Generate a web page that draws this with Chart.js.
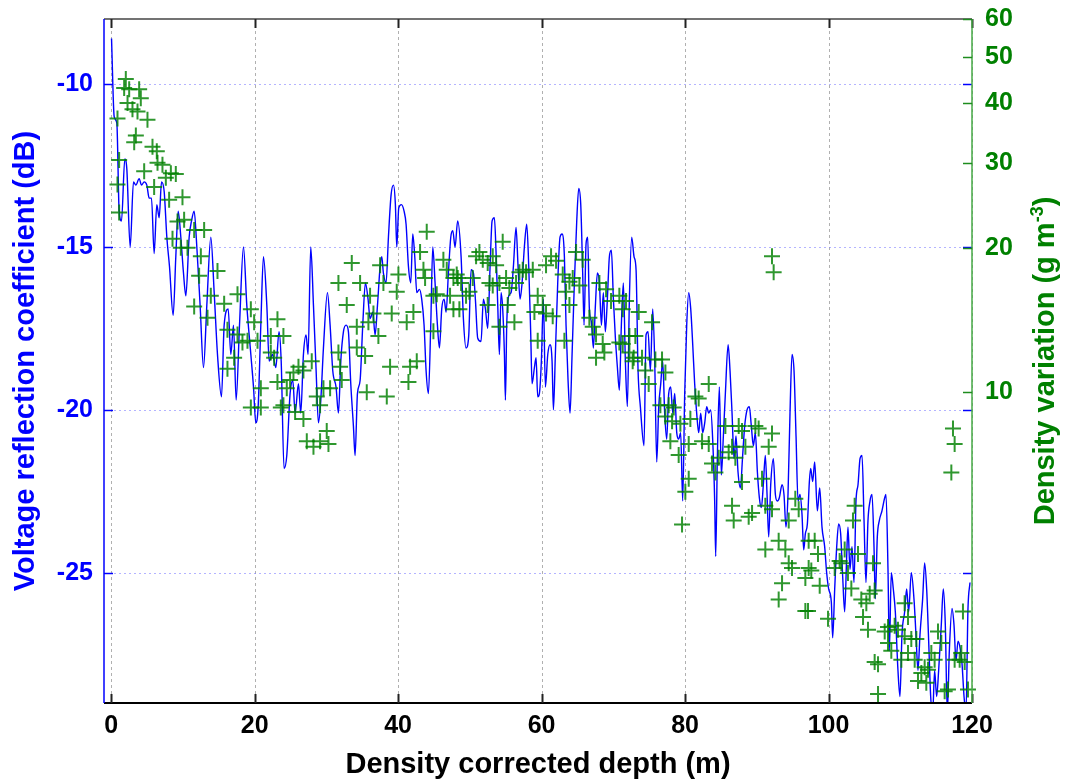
<!DOCTYPE html>
<html>
<head>
<meta charset="utf-8">
<script src="https://cdn.jsdelivr.net/npm/chart.js@4.4.1/dist/chart.umd.min.js"></script>
<style>
html,body{margin:0;padding:0;background:#ffffff;}
#wrap{width:1066px;height:782px;}
</style>
</head>
<body>
<div id="wrap"><canvas id="c" width="1066" height="782"></canvas></div>
<script>
// ---- tick labels ----
const xTickValues = [0, 20, 40, 60, 80, 100, 120];
const leftTickValues = [-25, -20, -15, -10];
const rightTickValues = [10, 20, 30, 40, 50, 60];

// ---- blue series: voltage reflection coefficient (dB) vs depth (m) ----
const lineDepth = [
0.05,0.42,0.79,1.11,1.44,1.90,2.18,2.65,3.11,3.44,
3.90,4.23,4.60,4.97,5.30,5.62,5.99,6.36,6.69,7.02,
7.39,7.76,8.13,8.64,9.01,9.34,9.71,10.08,10.41,10.87,
11.20,11.57,11.94,12.40,12.87,13.33,13.89,14.36,14.82,15.38,
15.75,16.31,16.68,17.05,17.42,17.89,18.44,18.91,19.47,19.84,
20.16,20.49,20.86,21.23,21.70,22.02,22.49,22.95,23.40,23.70,
24.10,24.48,24.94,25.32,25.64,26.11,26.43,26.80,27.17,27.45,
27.82,28.20,28.57,28.89,29.22,29.59,30.15,30.52,30.89,31.35,
31.68,32.01,32.38,32.75,33.07,33.40,33.77,34.00,34.33,34.70,
35.07,35.44,35.81,36.09,36.47,36.79,37.12,37.49,37.72,37.95,
38.32,38.65,39.02,39.35,39.62,39.81,40.09,40.46,40.83,41.11,
41.44,41.76,42.04,42.32,42.60,42.97,43.29,43.62,43.90,44.22,
44.55,44.83,45.15,45.48,45.76,46.08,46.41,46.69,47.01,47.34,
47.62,47.94,48.30,48.78,49.10,49.47,49.85,50.17,50.50,50.77,
51.10,51.56,51.89,52.17,52.49,52.82,53.10,53.42,53.66,53.89,
54.12,54.35,54.58,54.82,54.96,55.14,55.42,55.75,56.07,56.44,
56.72,57.00,57.28,57.60,57.93,58.21,58.49,58.67,59.00,59.23,
59.46,59.69,59.97,60.25,60.53,60.86,61.18,61.46,61.65,61.92,
62.25,62.57,62.85,63.18,63.41,63.69,63.97,64.25,64.57,64.90,
65.18,65.46,65.73,65.92,66.20,66.43,66.66,66.94,67.22,67.50,
67.78,68.06,68.34,68.61,68.89,69.17,69.45,69.73,70.01,70.29,
70.57,70.84,71.12,71.40,71.68,71.96,72.24,72.56,72.89,73.17,
73.45,73.77,74.28,74.56,74.84,75.17,75.49,75.77,76.05,76.33,
76.61,76.88,77.16,77.44,77.72,78.00,78.28,78.56,78.84,79.11,
79.39,79.67,79.95,80.23,80.51,80.79,81.07,81.34,81.62,81.90,
82.18,82.46,82.74,83.02,83.30,83.57,83.85,84.13,84.27,84.50,
84.78,85.06,85.34,85.62,86.00,86.27,86.55,86.83,87.10,87.38,
87.71,88.03,88.31,88.64,88.96,89.24,89.52,89.80,90.08,90.36,
90.64,90.91,91.19,91.43,91.66,91.94,92.31,92.59,92.87,93.14,
93.52,93.79,94.07,94.35,94.63,94.91,95.19,95.47,95.75,96.02,
96.30,96.54,96.77,97.05,97.33,97.51,97.79,98.07,98.44,98.77,
99.09,99.46,99.74,100.02,100.39,100.58,100.86,101.14,101.41,101.69,
101.97,102.25,102.53,102.71,102.99,103.27,103.55,103.83,104.11,104.39,
104.67,104.95,105.22,105.50,105.78,106.06,106.34,106.52,106.80,107.08,
107.45,107.83,108.01,108.29,108.48,108.75,109.03,109.31,109.68,109.96,
110.24,110.61,110.89,111.17,111.54,111.91,112.19,112.47,112.75,113.12,
113.40,113.68,113.96,114.24,114.52,114.79,115.07,115.35,115.72,116.00,
116.28,116.56,116.84,117.21,117.49,117.77,118.05,118.33,118.61,118.89,
119.16,119.44,119.72
];
const lineDb = [
-8.6,-11.0,-11.2,-13.9,-14.2,-12.3,-12.6,-15.0,-13.0,-13.1,
-12.9,-13.1,-13.0,-13.1,-13.5,-13.5,-15.2,-13.7,-14.1,-13.0,
-13.3,-14.7,-15.6,-17.1,-15.3,-13.9,-14.7,-15.8,-16.5,-14.7,
-14.2,-13.9,-15.0,-16.8,-18.7,-16.8,-14.7,-16.4,-18.3,-19.6,
-17.4,-16.9,-18.3,-17.4,-19.7,-17.4,-15.0,-16.8,-18.3,-19.3,
-20.4,-19.9,-17.4,-15.3,-16.8,-18.5,-18.3,-18.7,-17.6,-18.5,
-21.8,-21.4,-19.5,-19.1,-20.1,-19.2,-20.1,-18.3,-17.7,-18.3,
-15.0,-16.8,-18.8,-20.4,-19.7,-18.1,-16.4,-17.4,-18.8,-19.3,
-20.1,-18.5,-17.6,-17.4,-17.6,-19.2,-20.5,-21.4,-19.5,-19.1,
-17.4,-16.1,-16.6,-17.2,-17.0,-17.7,-16.8,-15.6,-15.3,-15.8,
-16.1,-14.7,-13.4,-13.1,-13.7,-15.0,-13.8,-13.7,-13.9,-14.3,
-15.6,-16.1,-14.6,-15.3,-16.4,-16.3,-16.6,-17.4,-18.8,-19.5,
-17.4,-15.0,-16.1,-17.4,-18.1,-16.9,-16.6,-17.0,-15.8,-14.7,
-14.5,-15.0,-14.2,-15.3,-17.2,-18.1,-17.7,-15.7,-15.8,-16.6,
-17.8,-17.9,-16.6,-16.9,-17.5,-15.6,-14.2,-14.1,-15.2,-16.8,
-18.3,-16.4,-16.9,-18.3,-19.7,-17.4,-16.5,-16.4,-15.6,-14.4,
-15.6,-16.6,-16.1,-15.0,-14.3,-15.6,-17.7,-19.2,-18.7,-18.4,
-19.6,-19.5,-18.5,-16.6,-19.3,-18.3,-18.0,-18.5,-20.0,-18.3,
-16.1,-14.7,-14.6,-15.3,-17.4,-19.1,-20.1,-18.3,-16.1,-14.2,
-13.2,-13.7,-15.8,-17.4,-14.9,-14.7,-16.9,-17.3,-18.1,-16.8,
-15.8,-16.1,-17.4,-16.4,-17.6,-16.6,-15.3,-15.1,-16.6,-17.8,
-18.7,-19.4,-17.4,-16.1,-18.5,-19.9,-16.6,-14.7,-15.3,-15.7,
-18.8,-19.9,-21.1,-17.7,-17.6,-18.8,-16.9,-18.5,-21.6,-19.9,
-19.2,-18.5,-20.1,-20.9,-19.5,-19.3,-20.1,-19.5,-20.7,-20.9,
-20.7,-22.8,-19.5,-17.4,-16.4,-16.9,-18.0,-19.2,-20.1,-20.7,
-20.1,-20.7,-20.4,-19.9,-20.1,-20.0,-20.9,-22.8,-24.5,-21.5,
-19.3,-22.0,-20.8,-19.5,-18.0,-18.8,-20.1,-21.5,-20.8,-21.9,
-22.4,-21.4,-20.5,-20.0,-19.9,-20.5,-21.1,-20.7,-21.9,-22.7,
-23.0,-22.3,-21.4,-22.6,-23.9,-22.3,-21.5,-22.6,-22.8,-22.7,
-22.3,-22.6,-23.6,-22.6,-20.1,-18.3,-18.8,-20.8,-22.8,-22.6,
-23.2,-24.3,-23.8,-23.5,-22.2,-21.8,-22.2,-21.6,-23.1,-22.4,
-23.6,-24.2,-25.0,-25.5,-25.9,-27.0,-25.5,-24.2,-23.5,-23.8,
-25.1,-26.2,-24.5,-23.6,-24.9,-24.2,-25.3,-22.8,-22.3,-21.5,
-21.4,-23.4,-25.3,-23.4,-22.8,-22.6,-24.2,-25.8,-23.9,-23.4,
-23.1,-22.7,-22.6,-24.9,-27.4,-25.0,-25.5,-26.2,-28.0,-28.8,
-26.9,-26.2,-25.5,-26.2,-25.0,-25.8,-26.9,-28.0,-26.9,-25.8,
-24.7,-25.5,-27.1,-28.8,-29.3,-28.0,-28.8,-28.0,-26.6,-25.5,
-26.6,-29.3,-27.4,-26.1,-26.6,-27.7,-27.1,-27.3,-27.8,-28.8,
-29.3,-26.1,-25.3
];

// ---- green series: density variation (g m^-3) vs depth (m) ----
const densityDepth = [
2.04,1.81,2.51,3.90,4.13,2.28,2.97,3.67,5.06,0.88,
3.44,3.21,5.76,6.36,1.11,6.46,7.15,4.60,8.32,9.01,
7.62,5.99,0.88,9.94,8.08,1.11,10.17,8.55,11.57,9.25,
12.96,10.64,9.71,12.50,14.82,12.26,13.89,11.57,13.43,15.75,
17.61,19.47,19.93,16.21,19.00,17.61,18.30,20.40,22.25,23.18,
17.14,16.21,20.86,19.47,20.86,23.18,23.65,22.25,22.72,24.01,
24.94,26.11,25.41,26.80,27.96,24.48,24.01,25.64,26.80,27.27,
28.20,29.12,30.05,30.29,29.59,28.66,29.12,30.52,31.68,31.91,
32.84,31.68,33.54,34.70,37.49,36.09,37.95,36.56,35.86,37.25,
34.24,34.24,35.40,32.14,35.63,38.42,38.88,39.11,40.04,39.81,
41.20,42.13,43.06,43.99,43.76,43.53,44.92,46.31,47.71,47.71,
46.78,41.67,41.44,44.92,45.38,48.17,47.24,42.60,48.31,48.78,
48.54,49.47,49.94,50.40,50.87,51.33,51.80,52.49,53.19,54.58,
53.66,54.12,55.05,52.73,53.19,55.51,56.44,57.37,57.84,58.77,
56.91,56.21,54.12,52.49,55.28,59.46,60.16,59.00,59.46,60.62,
61.32,62.02,62.95,63.88,64.34,64.81,65.73,65.27,63.41,63.88,
63.18,60.62,61.55,66.66,67.13,67.59,68.52,67.59,68.75,68.06,
68.99,69.68,70.84,71.31,71.77,72.24,70.84,71.31,72.24,72.70,
73.54,73.07,72.84,74.00,75.40,75.86,76.79,77.26,74.47,74.93,
76.56,77.72,78.42,77.26,78.19,79.35,77.95,79.11,80.51,80.04,
80.51,79.58,81.44,81.90,83.30,80.74,82.37,83.30,83.76,84.23,
84.69,85.62,86.08,86.55,87.01,87.48,87.94,88.41,86.55,86.78,
87.94,88.87,89.34,89.80,90.26,92.12,91.66,90.73,91.19,92.12,
91.19,93.05,93.98,94.45,95.37,95.84,94.45,94.91,93.52,93.05,
96.77,96.77,97.23,97.23,92.12,92.35,98.07,98.53,97.60,98.77,
97.14,99.93,100.86,101.79,102.25,101.55,103.64,103.41,104.11,102.71,
103.18,104.57,105.27,104.81,105.74,106.43,106.20,105.50,106.43,106.90,
106.90,107.83,108.29,108.29,108.75,109.22,109.68,110.61,111.08,110.15,
110.61,111.08,111.54,112.01,112.24,112.47,112.94,113.40,113.63,113.87,
114.33,114.79,115.26,115.72,116.19,116.65,117.58,118.28,118.51,118.98,
119.44,118.74,117.35,117.58,117.12
];
const densityValue = [
45.0,43.1,42.8,42.8,41.0,40.1,38.9,38.5,37.0,37.2,
34.3,33.2,32.5,31.8,30.5,30.1,29.8,28.9,28.6,28.5,
28.0,26.8,27.1,25.5,25.2,23.7,22.9,20.9,21.8,22.7,
21.8,20.0,20.0,19.2,17.9,17.5,15.9,15.1,14.3,15.3,
16.0,14.9,14.0,13.5,12.8,13.2,12.7,12.8,13.1,14.2,
11.8,11.2,10.2,9.3,9.3,10.5,9.3,12.1,11.8,13.1,
10.6,11.3,11.0,11.1,11.6,10.2,9.4,9.1,8.8,7.9,
7.7,7.9,8.3,7.8,10.2,9.8,9.4,10.2,12.1,11.3,
15.2,16.9,18.6,16.9,18.4,15.9,16.9,14.6,14.0,13.1,
13.7,12.4,11.9,10.6,10.0,9.8,11.3,14.6,17.6,16.2,
14.0,14.7,19.6,21.6,17.3,18.0,15.9,18.9,17.3,14.9,
18.0,11.3,10.5,13.4,16.0,17.6,15.9,11.6,17.3,16.9,
14.9,15.9,16.2,17.3,19.2,19.6,18.9,18.6,19.2,20.6,
18.4,16.9,17.3,16.9,16.7,16.5,16.9,18.0,17.8,18.0,
17.8,14.0,13.7,15.2,15.2,15.9,15.2,14.7,12.8,18.4,
19.2,18.8,17.6,17.0,17.3,19.6,18.9,16.7,16.2,15.2,
12.8,14.6,14.4,14.3,13.7,13.2,12.6,11.8,12.1,16.9,
16.4,15.5,15.9,14.9,15.5,13.1,12.7,12.6,12.1,11.6,
14.7,13.1,11.8,11.8,14.0,11.7,11.7,11.0,11.1,10.4,
9.4,9.4,9.3,8.9,8.7,8.6,7.9,7.4,7.8,6.2,
6.6,5.3,9.8,9.7,10.4,8.8,7.9,7.8,7.1,6.8,
7.3,8.5,7.5,7.7,7.3,8.5,8.3,7.7,5.8,5.4,
6.5,5.5,5.6,8.5,8.4,8.2,7.7,6.6,5.8,5.7,
4.7,4.9,4.7,5.4,6.0,5.7,4.4,4.3,4.0,3.7,
4.1,3.5,4.9,4.3,19.2,17.8,4.9,4.6,4.25,3.95,
3.5,3.37,4.3,4.4,4.7,4.45,5.8,5.4,4.6,4.2,
3.9,3.7,3.63,3.4,3.8,3.86,4.4,3.2,2.74,2.71,
2.35,3.17,3.24,3.0,2.89,3.26,3.2,3.63,3.4,2.77,
3.1,2.86,3.06,2.77,3.06,2.5,2.6,2.67,2.48,2.64,
2.86,2.77,3.17,3.0,2.38,2.4,2.77,2.77,2.86,2.74,
2.4,3.49,8.4,7.8,6.8
];

const FONT = '"Liberation Sans", Arial, Helvetica, sans-serif';
const BLUE = '#0000ff';
const GREEN = '#008000';

const framePlugin = {
  id: 'frame',
  beforeDatasetsDraw(chart) {
    const {ctx, chartArea: a, scales} = chart;
    ctx.save();
    ctx.lineWidth = 1;
    // vertical grid (grey dash)
    ctx.strokeStyle = 'rgba(150,150,150,0.75)';
    ctx.setLineDash([3, 3]);
    xTickValues.forEach(v => {
      const x = Math.round(scales.x.getPixelForValue(v)) + 0.5;
      ctx.beginPath(); ctx.moveTo(x, a.top); ctx.lineTo(x, a.bottom); ctx.stroke();
    });
    // horizontal grid (light blue dotted)
    ctx.strokeStyle = 'rgba(130,130,255,0.6)';
    ctx.setLineDash([2, 3]);
    leftTickValues.forEach(v => {
      const y = Math.round(scales.y.getPixelForValue(v)) + 0.5;
      ctx.beginPath(); ctx.moveTo(a.left, y); ctx.lineTo(a.right, y); ctx.stroke();
    });
    ctx.restore();
  },
  afterDatasetsDraw(chart) {
    const {ctx, chartArea: a, scales} = chart;
    ctx.save();
    ctx.setLineDash([]);
    const seg = (x1, y1, x2, y2) => { ctx.beginPath(); ctx.moveTo(x1, y1); ctx.lineTo(x2, y2); ctx.stroke(); };
    const tl = 9;
    // top border
    ctx.strokeStyle = '#444'; ctx.lineWidth = 1.5;
    seg(a.left, a.top, a.right, a.top);
    // bottom axis
    ctx.strokeStyle = '#000'; ctx.lineWidth = 2;
    seg(a.left, a.bottom, a.right, a.bottom);
    // x tick marks (top and bottom, inward)
    ctx.strokeStyle = '#222'; ctx.lineWidth = 2;
    xTickValues.forEach(v => {
      const x = Math.round(scales.x.getPixelForValue(v)) + 0.5;
      seg(x, a.bottom, x, a.bottom - tl);
      seg(x, a.top, x, a.top + tl);
    });
    // left axis (blue)
    ctx.strokeStyle = BLUE; ctx.lineWidth = 1.5;
    seg(a.left, a.top, a.left, a.bottom);
    leftTickValues.forEach(v => {
      const y = Math.round(scales.y.getPixelForValue(v)) + 0.5;
      seg(a.left, y, a.left + tl, y);
      seg(a.right, y, a.right - tl, y);
    });
    // right axis (green)
    ctx.strokeStyle = 'rgb(70,170,70)'; ctx.lineWidth = 1.5;
    seg(a.right, a.top, a.right, a.bottom);
    ctx.strokeStyle = 'rgb(30,140,30)';
    rightTickValues.forEach(v => {
      const y = Math.round(scales.y2.getPixelForValue(v)) + 0.5;
      seg(a.right, y, a.right - tl, y);
    });
    ctx.restore();
  },
  afterDraw(chart) {
    const {ctx, chartArea: a} = chart;
    ctx.save();
    ctx.textBaseline = 'alphabetic';
    ctx.font = 'bold 29px ' + FONT;
    const cy = (a.top + a.bottom) / 2;
    // x title
    ctx.fillStyle = '#000';
    ctx.textAlign = 'center';
    ctx.fillText('Density corrected depth (m)', (a.left + a.right) / 2, 773);
    // left title
    ctx.save();
    ctx.translate(34, cy);
    ctx.rotate(-Math.PI / 2);
    ctx.fillStyle = BLUE;
    ctx.textAlign = 'center';
    ctx.fillText('Voltage reflection coefficient (dB)', 0, 0);
    ctx.restore();
    // right title with superscript
    ctx.save();
    ctx.translate(1054, cy);
    ctx.rotate(-Math.PI / 2);
    ctx.fillStyle = GREEN;
    ctx.textAlign = 'left';
    const p1 = 'Density variation (g m', sup = '-3', p3 = ')';
    const mainFont = 'bold 29px ' + FONT, supFont = 'bold 18px ' + FONT;
    ctx.font = mainFont; const w1 = ctx.measureText(p1).width, w3 = ctx.measureText(p3).width;
    ctx.font = supFont; const w2 = ctx.measureText(sup).width;
    let x0 = -(w1 + w2 + w3) / 2;
    ctx.font = mainFont; ctx.fillText(p1, x0, 0); x0 += w1;
    ctx.font = supFont; ctx.fillText(sup, x0, -11); x0 += w2;
    ctx.font = mainFont; ctx.fillText(p3, x0, 0);
    ctx.restore();
    ctx.restore();
  }
};

const tickFont = {family: FONT, size: 25, weight: 'bold'};
const noVPad = s => { s.paddingTop = 0; s.paddingBottom = 0; };

new Chart(document.getElementById('c'), {
  type: 'scatter',
  data: {
    datasets: [
      {
        type: 'line',
        label: 'Voltage reflection coefficient (dB)',
        data: lineDepth.map((d, i) => ({x: d, y: lineDb[i]})),
        yAxisID: 'y',
        borderColor: BLUE,
        borderWidth: 1.4,
        pointRadius: 0,
        fill: false,
        cubicInterpolationMode: 'monotone',
        order: 2
      },
      {
        type: 'scatter',
        label: 'Density variation',
        data: densityDepth.map((d, i) => ({x: d, y: densityValue[i]})),
        yAxisID: 'y2',
        pointStyle: 'cross',
        pointRadius: 8,
        borderWidth: 2,
        borderColor: 'rgba(0,128,0,0.82)',
        backgroundColor: 'rgba(0,128,0,0.82)',
        clip: false,
        order: 1
      }
    ]
  },
  options: {
    responsive: false,
    animation: false,
    events: [],
    layout: {padding: {top: 19, left: 0, right: 0, bottom: 0}},
    plugins: {legend: {display: false}, tooltip: {enabled: false}, title: {display: false}},
    scales: {
      x: {
        type: 'linear', position: 'bottom', min: -1, max: 120,
        afterBuildTicks: s => { s.ticks = xTickValues.map(v => ({value: v})); },
        afterFit: s => { s.height = 79; s.paddingLeft = 0; s.paddingRight = 0; },
        grid: {display: false, drawTicks: false},
        border: {display: false},
        ticks: {color: '#000', font: tickFont, padding: 8, maxRotation: 0, autoSkip: false}
      },
      y: {
        type: 'linear', position: 'left', min: -29, max: -8,
        afterBuildTicks: s => { s.ticks = leftTickValues.map(v => ({value: v})); },
        afterFit: s => { s.width = 104; noVPad(s); },
        grid: {display: false, drawTicks: false},
        border: {display: false},
        ticks: {color: BLUE, font: tickFont, padding: 11, autoSkip: false}
      },
      y2: {
        type: 'logarithmic', position: 'right', min: 2.25, max: 60,
        afterBuildTicks: s => { s.ticks = rightTickValues.map(v => ({value: v})); },
        afterFit: s => { s.width = 94; noVPad(s); },
        grid: {display: false, drawTicks: false},
        border: {display: false},
        ticks: {color: GREEN, font: tickFont, padding: 13, autoSkip: false, callback: v => String(v)}
      }
    }
  },
  plugins: [framePlugin]
});
</script>
</body>
</html>
